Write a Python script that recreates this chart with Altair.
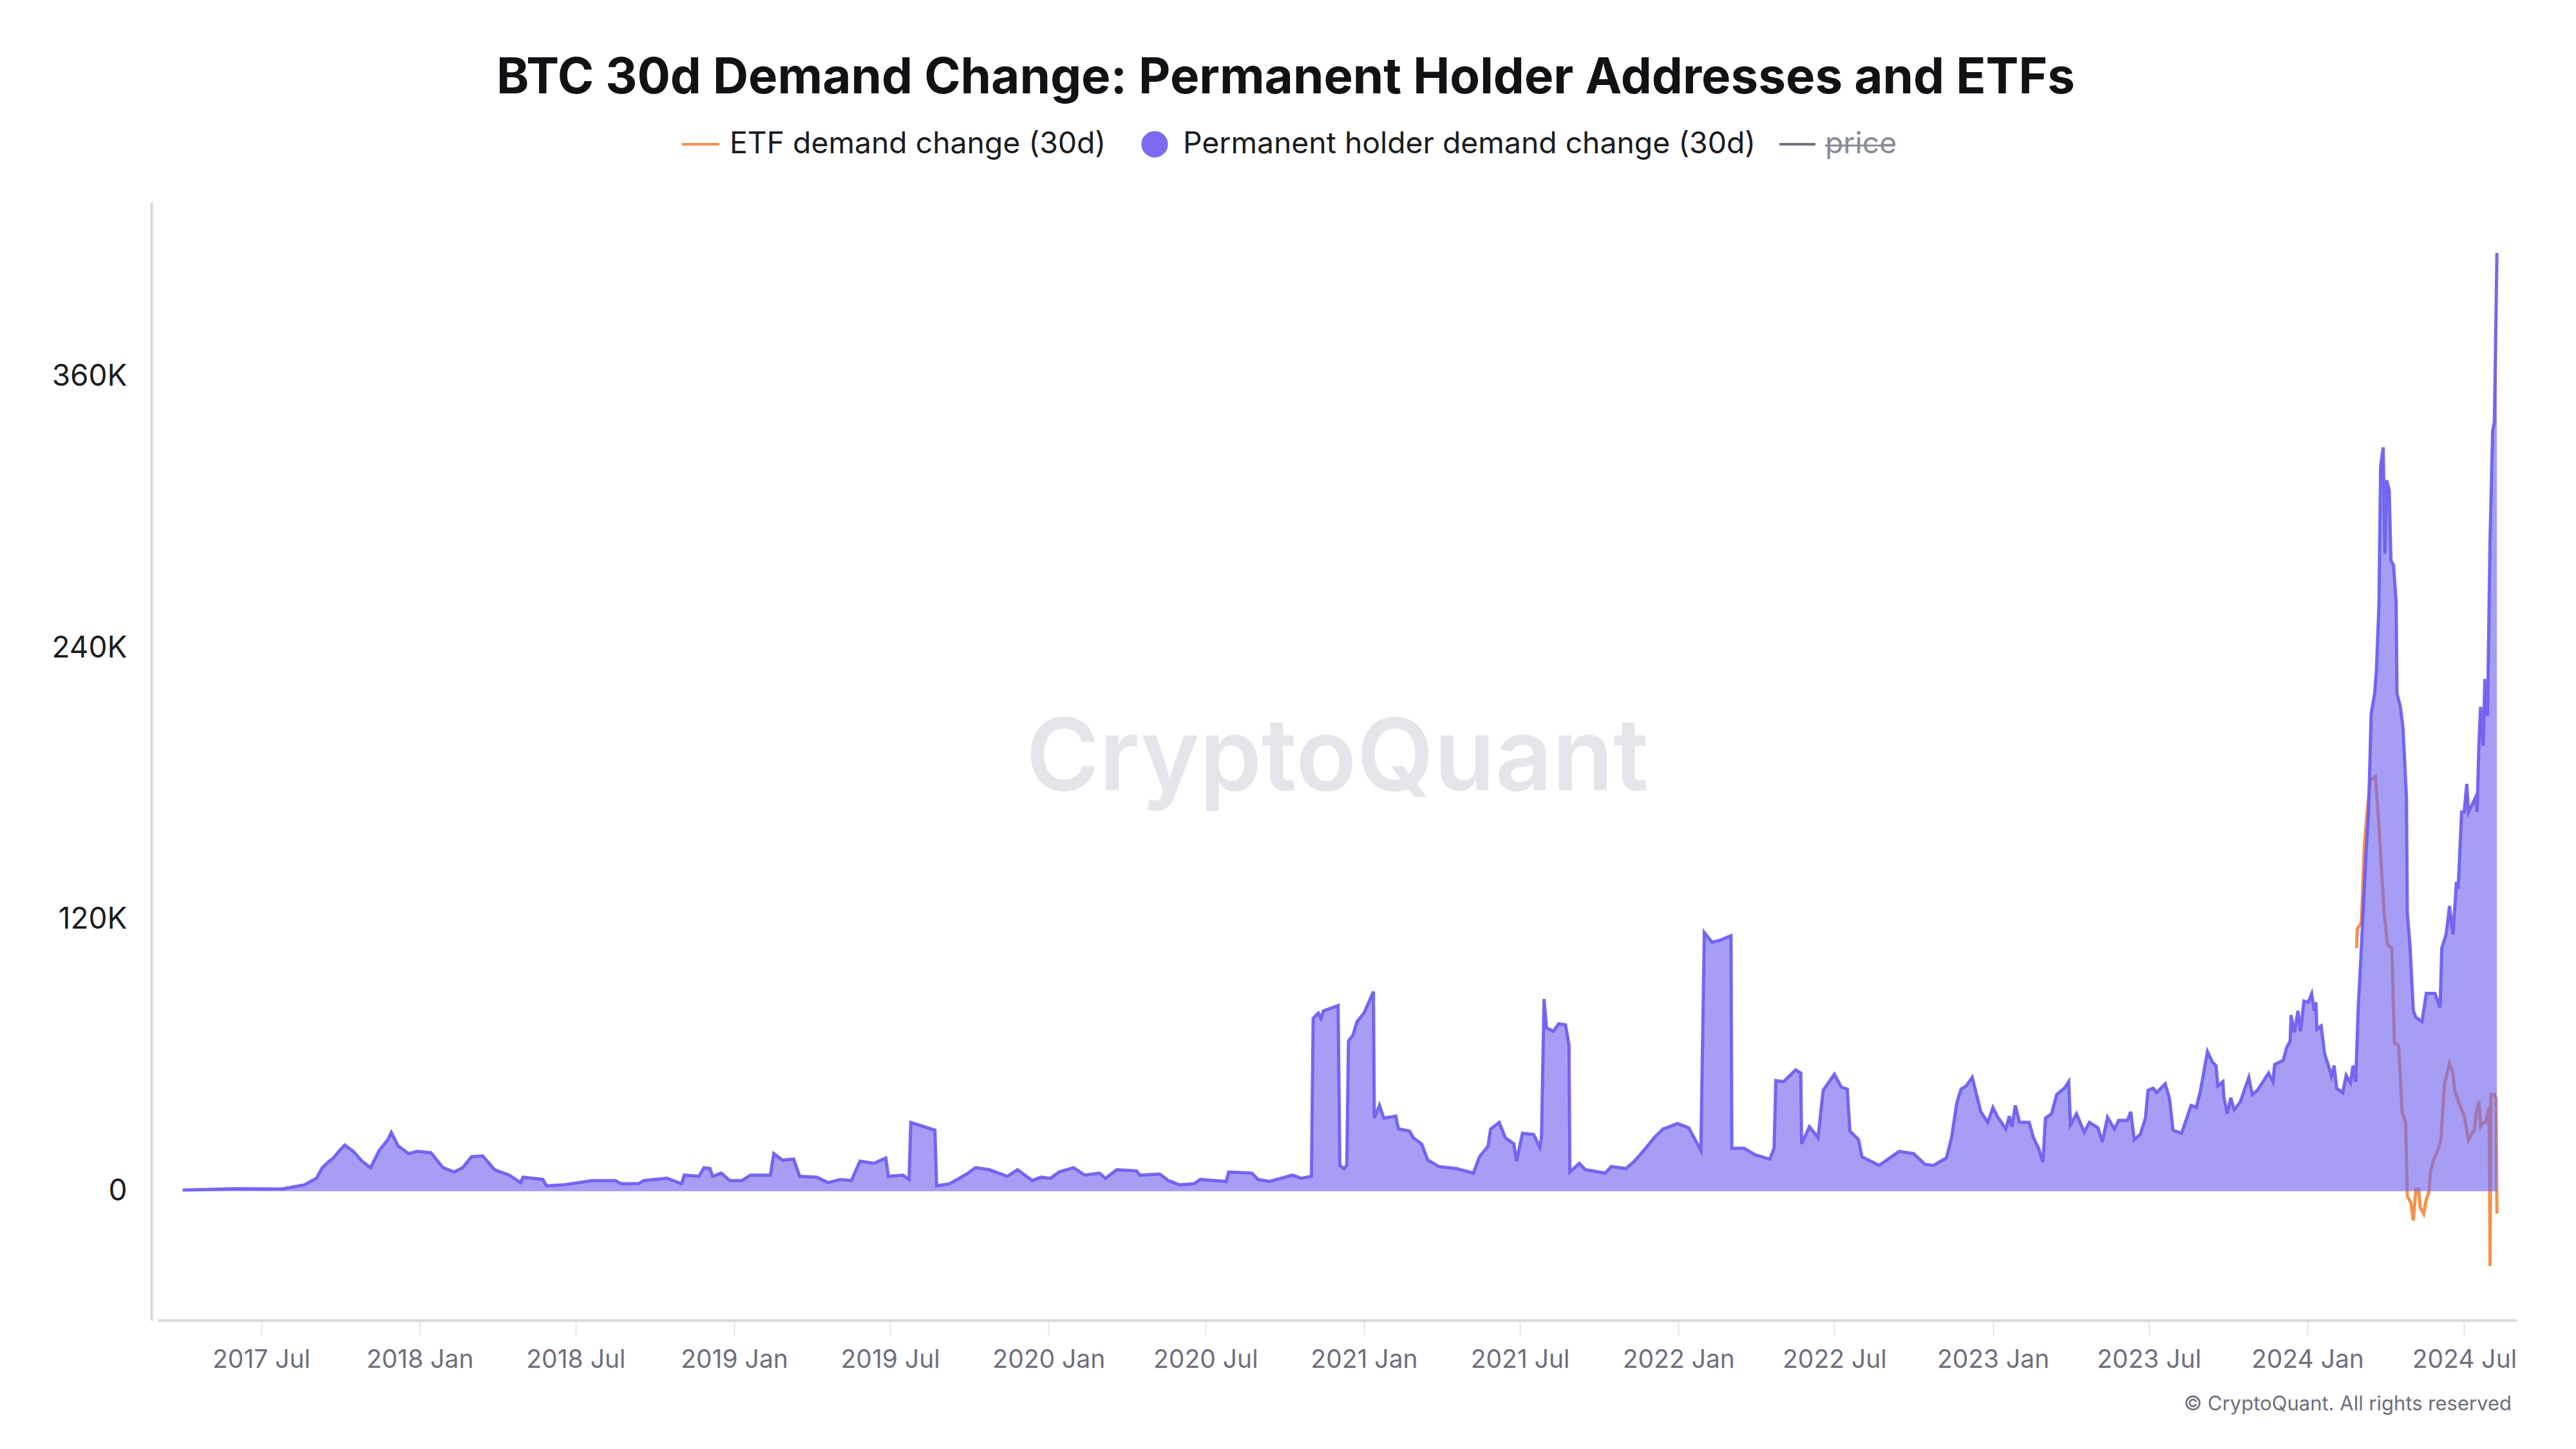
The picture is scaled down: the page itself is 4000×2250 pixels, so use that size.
import altair as alt
import pandas as pd

# ---------------- data (values in thousands of BTC) ----------------
perm_dates = [
    "2017-04-01", "2017-06-01", "2017-07-25", "2017-08-20", "2017-09-03", "2017-09-10", "2017-09-18",
    "2017-09-23", "2017-09-30", "2017-10-06", "2017-10-16", "2017-10-26", "2017-11-05", "2017-11-15",
    "2017-11-25", "2017-11-29", "2017-12-07", "2017-12-19", "2017-12-29", "2018-01-14", "2018-01-28",
    "2018-02-10", "2018-02-20", "2018-03-02", "2018-03-15", "2018-03-29", "2018-04-15", "2018-04-28",
    "2018-05-01", "2018-05-24", "2018-05-28", "2018-06-17", "2018-07-20", "2018-08-16", "2018-08-23",
    "2018-09-12", "2018-09-18", "2018-10-15", "2018-11-01", "2018-11-04", "2018-11-21", "2018-11-27",
    "2018-12-04", "2018-12-07", "2018-12-17", "2018-12-27", "2019-01-10", "2019-01-20", "2019-02-12",
    "2019-02-16", "2019-02-26", "2019-03-11", "2019-03-18", "2019-04-07", "2019-04-20", "2019-05-04",
    "2019-05-17", "2019-05-27", "2019-06-12", "2019-06-26", "2019-06-29", "2019-07-16", "2019-07-23",
    "2019-07-25", "2019-08-22", "2019-08-24", "2019-09-08", "2019-09-28", "2019-10-08", "2019-10-24",
    "2019-11-14", "2019-11-26", "2019-12-13", "2019-12-23", "2020-01-03", "2020-01-13", "2020-01-30",
    "2020-02-12", "2020-02-29", "2020-03-07", "2020-03-20", "2020-04-12", "2020-04-16", "2020-05-09",
    "2020-05-19", "2020-06-01", "2020-06-18", "2020-06-25", "2020-07-12", "2020-07-25", "2020-07-28",
    "2020-08-24", "2020-08-31", "2020-09-13", "2020-10-10", "2020-10-20", "2020-11-01", "2020-11-03",
    "2020-11-09", "2020-11-12", "2020-11-15", "2020-12-02", "2020-12-04", "2020-12-09", "2020-12-12",
    "2020-12-14", "2020-12-19", "2020-12-24", "2021-01-01", "2021-01-06", "2021-01-12", "2021-01-13",
    "2021-01-19", "2021-01-24", "2021-02-07", "2021-02-10", "2021-02-23", "2021-02-27", "2021-03-09",
    "2021-03-16", "2021-03-29", "2021-04-18", "2021-05-08", "2021-05-15", "2021-05-25", "2021-05-28",
    "2021-06-07", "2021-06-14", "2021-06-24", "2021-06-27", "2021-07-04", "2021-07-17", "2021-07-24",
    "2021-07-26", "2021-07-29", "2021-08-01", "2021-08-09", "2021-08-15", "2021-08-23", "2021-08-27",
    "2021-08-28", "2021-09-08", "2021-09-15", "2021-10-08", "2021-10-15", "2021-11-01", "2021-11-11",
    "2021-11-24", "2021-12-04", "2021-12-14", "2021-12-31", "2022-01-13", "2022-01-27", "2022-01-31",
    "2022-02-09", "2022-02-19", "2022-03-03", "2022-03-04", "2022-03-18", "2022-03-31", "2022-04-17",
    "2022-04-22", "2022-04-24", "2022-05-03", "2022-05-17", "2022-05-23", "2022-05-24", "2022-06-02",
    "2022-06-12", "2022-06-18", "2022-07-01", "2022-07-09", "2022-07-16", "2022-07-19", "2022-07-29",
    "2022-08-02", "2022-08-22", "2022-09-14", "2022-10-01", "2022-10-14", "2022-10-24", "2022-11-08",
    "2022-11-14", "2022-11-20", "2022-11-25", "2022-12-01", "2022-12-08", "2022-12-13", "2022-12-18",
    "2022-12-26", "2023-01-01", "2023-01-06", "2023-01-16", "2023-01-20", "2023-01-23", "2023-01-27",
    "2023-02-01", "2023-02-12", "2023-02-17", "2023-02-23", "2023-02-28", "2023-03-03", "2023-03-10",
    "2023-03-16", "2023-03-25", "2023-03-30", "2023-04-01", "2023-04-08", "2023-04-17", "2023-04-23",
    "2023-05-03", "2023-05-08", "2023-05-14", "2023-05-22", "2023-05-27", "2023-06-06", "2023-06-10",
    "2023-06-14", "2023-06-21", "2023-06-27", "2023-06-30", "2023-07-06", "2023-07-10", "2023-07-20",
    "2023-07-25", "2023-07-29", "2023-08-08", "2023-08-19", "2023-08-25", "2023-08-30", "2023-09-07",
    "2023-09-13", "2023-09-17", "2023-09-19", "2023-09-25", "2023-09-26", "2023-09-30", "2023-10-04",
    "2023-10-08", "2023-10-15", "2023-10-25", "2023-10-29", "2023-11-04", "2023-11-17", "2023-11-22",
    "2023-11-24", "2023-12-04", "2023-12-08", "2023-12-12", "2023-12-13", "2023-12-17", "2023-12-21",
    "2023-12-24", "2023-12-28", "2024-01-02", "2024-01-06", "2024-01-09", "2024-01-11", "2024-01-12",
    "2024-01-17", "2024-01-21", "2024-01-25", "2024-01-29", "2024-02-01", "2024-02-04", "2024-02-11",
    "2024-02-15", "2024-02-20", "2024-02-23", "2024-02-26", "2024-02-29", "2024-03-03", "2024-03-05",
    "2024-03-09", "2024-03-12", "2024-03-15", "2024-03-19", "2024-03-21", "2024-03-24", "2024-03-26",
    "2024-03-29", "2024-03-31", "2024-04-02", "2024-04-05", "2024-04-07", "2024-04-10", "2024-04-13",
    "2024-04-14", "2024-04-18", "2024-04-21", "2024-04-25", "2024-04-26", "2024-04-29", "2024-05-03",
    "2024-05-06", "2024-05-13", "2024-05-18", "2024-05-28", "2024-06-03", "2024-06-05", "2024-06-10",
    "2024-06-14", "2024-06-18", "2024-06-22", "2024-06-24", "2024-06-28", "2024-07-01", "2024-07-04",
    "2024-07-06", "2024-07-14", "2024-07-16", "2024-07-18", "2024-07-20", "2024-07-23", "2024-07-25",
    "2024-07-28", "2024-07-31", "2024-08-03", "2024-08-05", "2024-08-08",
]
perm_k = [
    0.5, 1.1, 1.0, 2.8, 5.7, 10.4, 13.3,
    14.7, 18.0, 20.4, 17.6, 13.3, 10.4, 18.0,
    22.8, 26.0, 20.0, 16.6, 17.6, 17.0, 10.4,
    8.5, 10.4, 15.2, 15.6, 9.5, 7.1, 3.8,
    6.2, 5.2, 2.4, 2.8, 4.7, 4.7, 3.3,
    3.3, 4.7, 5.7, 3.3, 7.1, 6.6, 10.4,
    10.0, 6.6, 8.0, 4.7, 4.7, 7.1, 7.1,
    16.6, 13.7, 14.2, 6.6, 6.2, 3.8, 5.2,
    4.7, 13.3, 12.3, 14.7, 6.6, 7.1, 5.2,
    30.4, 27.0, 2.4, 3.3, 7.6, 10.4, 9.5,
    6.6, 9.5, 4.7, 6.2, 5.7, 8.5, 10.4,
    7.1, 8.0, 5.7, 9.5, 9.0, 7.1, 7.6,
    4.7, 2.8, 3.3, 5.2, 4.7, 4.3, 8.5,
    8.0, 5.2, 4.3, 7.1, 5.7, 6.6, 76.4,
    78.7, 76.4, 79.7, 82.0, 11.4, 10.0, 11.4,
    66.4, 68.8, 75.0, 78.7, 83.0, 88.2, 32.3,
    38.0, 32.3, 33.2, 27.5, 26.6, 23.7, 20.9,
    13.8, 10.9, 10.0, 8.0, 15.2, 19.9, 27.5,
    30.4, 23.7, 20.9, 13.3, 25.6, 25.1, 19.4,
    23.7, 84.9, 72.1, 70.7, 74.0, 73.5, 64.5,
    8.5, 12.3, 9.5, 8.0, 10.9, 10.0, 13.3,
    19.0, 23.7, 27.5, 29.9, 28.0, 18.0, 114.3,
    110.0, 111.0, 112.9, 19.0, 19.0, 16.1, 14.2,
    19.0, 48.9, 48.4, 53.6, 52.2, 20.9, 28.5,
    23.7, 44.6, 51.7, 46.0, 45.1, 26.6, 22.8,
    15.2, 11.4, 17.6, 16.6, 11.9, 11.4, 14.7,
    23.7, 38.9, 45.1, 46.5, 50.3, 42.7, 35.1,
    30.4, 37.0, 33.2, 27.5, 33.2, 28.5, 37.9,
    30.4, 30.4, 23.7, 19.0, 12.8, 32.3, 34.2,
    42.7, 45.5, 48.4, 29.4, 34.2, 26.1, 30.4,
    28.0, 21.8, 32.7, 27.5, 31.3, 31.3, 35.1,
    22.8, 25.1, 32.3, 44.6, 45.5, 43.6, 47.4,
    40.8, 27.0, 25.6, 37.9, 37.0, 44.6, 61.7,
    56.9, 55.5, 46.5, 48.4, 41.7, 34.2, 41.3,
    36.0, 39.4, 50.3, 42.7, 44.6, 52.2, 48.4,
    56.0, 57.9, 63.6, 66.4, 77.8, 70.2, 79.7,
    70.7, 84.0, 83.5, 87.3, 79.7, 83.5, 71.6,
    73.0, 60.7, 56.0, 50.8, 55.5, 45.5, 43.5,
    51.2, 47.9, 55.5, 48.4, 81.2, 102.8, 118.2,
    149.0, 167.6, 210.9, 220.0, 229.4, 258.7, 320.5,
    328.7, 281.8, 314.2, 309.7, 278.7, 276.6, 260.2,
    220.0, 214.0, 204.6, 173.9, 123.0, 109.0, 79.7,
    76.8, 75.0, 87.4, 87.4, 81.2, 107.4, 113.5,
    126.0, 113.5, 136.7, 133.7, 167.6, 167.6, 180.0,
    167.6, 173.9, 167.6, 196.9, 214.0, 196.9, 226.3,
    210.0, 288.0, 335.8, 340.0, 414.6,
]

etf_dates = [
    "2024-02-27", "2024-02-28", "2024-03-03", "2024-03-04", "2024-03-07", "2024-03-10", "2024-03-14",
    "2024-03-20", "2024-03-24", "2024-03-26", "2024-03-30", "2024-04-03", "2024-04-08", "2024-04-11",
    "2024-04-16", "2024-04-20", "2024-04-24", "2024-04-26", "2024-04-30", "2024-05-03", "2024-05-06",
    "2024-05-09", "2024-05-11", "2024-05-15", "2024-05-18", "2024-05-21", "2024-05-23", "2024-05-26",
    "2024-05-31", "2024-06-04", "2024-06-08", "2024-06-14", "2024-06-18", "2024-06-20", "2024-06-26",
    "2024-07-01", "2024-07-06", "2024-07-10", "2024-07-13", "2024-07-15", "2024-07-18", "2024-07-20",
    "2024-07-23", "2024-07-26", "2024-07-30", "2024-07-31", "2024-08-01", "2024-08-05", "2024-08-07",
    "2024-08-08",
]
etf_k = [
    107.4, 116.0, 118.2, 121.3, 152.2, 166.0, 181.6,
    183.3, 161.7, 149.0, 123.0, 109.0, 107.4, 65.7,
    64.2, 34.9, 30.3, -2.2, -5.0, -12.9, 0.9,
    0.9, -7.3, -10.0, -3.6, -0.5, 8.7, 13.3,
    17.8, 22.5, 47.2, 56.5, 52.0, 44.2, 38.0,
    33.4, 22.5, 25.6, 27.1, 34.9, 39.6, 28.6,
    30.3, 30.3, 37.2, -33.0, 42.7, 42.7, 41.0,
    -9.9,
]

series_labels = ["ETF demand change (30d)", "Permanent holder demand change (30d)", "price"]
y_tick_values = [0, 120000, 240000, 360000]
x_tick_months = [(2017, 7), (2018, 1), (2018, 7), (2019, 1), (2019, 7), (2020, 1), (2020, 7),
                 (2021, 1), (2021, 7), (2022, 1), (2022, 7), (2023, 1), (2023, 7), (2024, 1), (2024, 7)]

perm_df = pd.DataFrame({"date": perm_dates, "value": [v * 1000 for v in perm_k]})
etf_df = pd.DataFrame({"date": etf_dates, "value": [v * 1000 for v in etf_k]})

# ---------------- layout / style ----------------
W, H = 3663, 1736
FONT = "Inter"
ORANGE = "#f5914a"
PURPLE_FILL = "#7266ee"
PURPLE_LINE = "#6b5cf0"
GRAY = "#70707f"

x_enc = alt.X(
    "date:T",
    scale=alt.Scale(
        type="utc",
        domain=[alt.DateTime(year=2017, month=3, date=3, utc=True),
                alt.DateTime(year=2024, month=8, date=31, utc=True)],
        nice=False,
    ),
    axis=alt.Axis(
        title=None,
        values=[alt.DateTime(year=y, month=m, date=1, utc=True) for (y, m) in x_tick_months],
        labelExpr="utcFormat(datum.value, '%Y %b')",
        grid=False,
        domainColor="#d7d7df",
        domainWidth=4,
        tickColor="#e4e4ea",
        tickWidth=2,
        tickSize=24,
        labelFont=FONT,
        labelFontSize=39,
        labelColor="#6e6e7e",
        labelPadding=18,
        labelOverlap=False,
    ),
)
y_enc = alt.Y(
    "value:Q",
    scale=alt.Scale(domain=[-57000, 437000], nice=False, zero=False),
    axis=alt.Axis(
        title=None,
        values=y_tick_values,
        labelExpr="datum.value == 0 ? '0' : format(datum.value / 1000, 'd') + 'K'",
        grid=False,
        ticks=False,
        offset=10,
        domainColor="#d7d7df",
        domainWidth=4,
        labelFont=FONT,
        labelFontSize=46,
        labelColor="#1c1c22",
        labelPadding=38,
    ),
)

watermark = alt.Chart(pd.DataFrame({"t": ["CryptoQuant"]})).mark_text(
    font=FONT, fontSize=155, fontWeight=600, color="#e4e4ea", align="center", baseline="middle"
).encode(text="t:N", x=alt.value(W / 2), y=alt.value(866))

etf_line = alt.Chart(etf_df).mark_line(color=ORANGE, strokeWidth=5, interpolate="linear").encode(
    x=x_enc, y=y_enc
)
perm_area = alt.Chart(perm_df).mark_area(color=PURPLE_FILL, fillOpacity=0.63).encode(x=x_enc, y=y_enc)
perm_line = alt.Chart(perm_df).mark_line(color=PURPLE_LINE, strokeWidth=5, opacity=0.92).encode(
    x=x_enc, y=y_enc
)

# ---------------- legend (drawn above the plot) ----------------
LY = -90
LFS = 46.3
leg_etf_sym = alt.Chart(pd.DataFrame({"s": [series_labels[0]]})).mark_rule(
    color=ORANGE, strokeWidth=4
).encode(x=alt.value(814), x2=alt.value(872), y=alt.value(LY))
leg_perm_sym = alt.Chart(pd.DataFrame({"s": [series_labels[1]]})).mark_point(
    filled=True, color="#7a6bf2", opacity=1, size=1700, shape="circle"
).encode(x=alt.value(1548), y=alt.value(LY))
leg_price_sym = alt.Chart(pd.DataFrame({"s": [series_labels[2]]})).mark_rule(
    color=GRAY, strokeWidth=4
).encode(x=alt.value(2518), x2=alt.value(2574), y=alt.value(LY))

leg_etf_txt = alt.Chart(pd.DataFrame({"s": [series_labels[0]]})).mark_text(
    font=FONT, fontSize=LFS, color="#1b1b20", align="left", baseline="middle"
).encode(text="s:N", x=alt.value(888), y=alt.value(LY))
leg_perm_txt = alt.Chart(pd.DataFrame({"s": [series_labels[1]]})).mark_text(
    font=FONT, fontSize=LFS, color="#1b1b20", align="left", baseline="middle"
).encode(text="s:N", x=alt.value(1592), y=alt.value(LY))
leg_price_txt = alt.Chart(pd.DataFrame({"s": [series_labels[2]]})).mark_text(
    font=FONT, fontSize=LFS, color="#8a8a97", align="left", baseline="middle"
).encode(text="s:N", x=alt.value(2589), y=alt.value(LY))
leg_price_strike = alt.Chart(pd.DataFrame({"s": [series_labels[2]]})).mark_rule(
    color="#8a8a97", strokeWidth=3
).encode(x=alt.value(2589), x2=alt.value(2694), y=alt.value(LY + 2))

copyright_txt = alt.Chart(pd.DataFrame({"t": ["© CryptoQuant. All rights reserved"]})).mark_text(
    font=FONT, fontSize=31, color="#6e6e7e", align="right", baseline="middle"
).encode(text="t:N", x=alt.value(W - 8), y=alt.value(H + 131))

chart = alt.layer(
    watermark, etf_line, perm_area, perm_line,
    leg_etf_sym, leg_perm_sym, leg_price_sym,
    leg_etf_txt, leg_perm_txt, leg_price_txt, leg_price_strike,
    copyright_txt,
).properties(
    width=W,
    height=H,
    title=alt.TitleParams(
        text="BTC 30d Demand Change: Permanent Holder Addresses and ETFs",
        font=FONT, fontSize=76.3, fontWeight=700, color="#111116",
        anchor="middle", dx=-80, offset=40,
    ),
    autosize=alt.AutoSizeParams(type="none"),
    padding={"left": 237, "top": 306, "right": 84, "bottom": 150},
    background="white",
).configure_view(strokeWidth=0)

chart.save("out.html", embed_options={"renderer": "svg", "actions": False})
